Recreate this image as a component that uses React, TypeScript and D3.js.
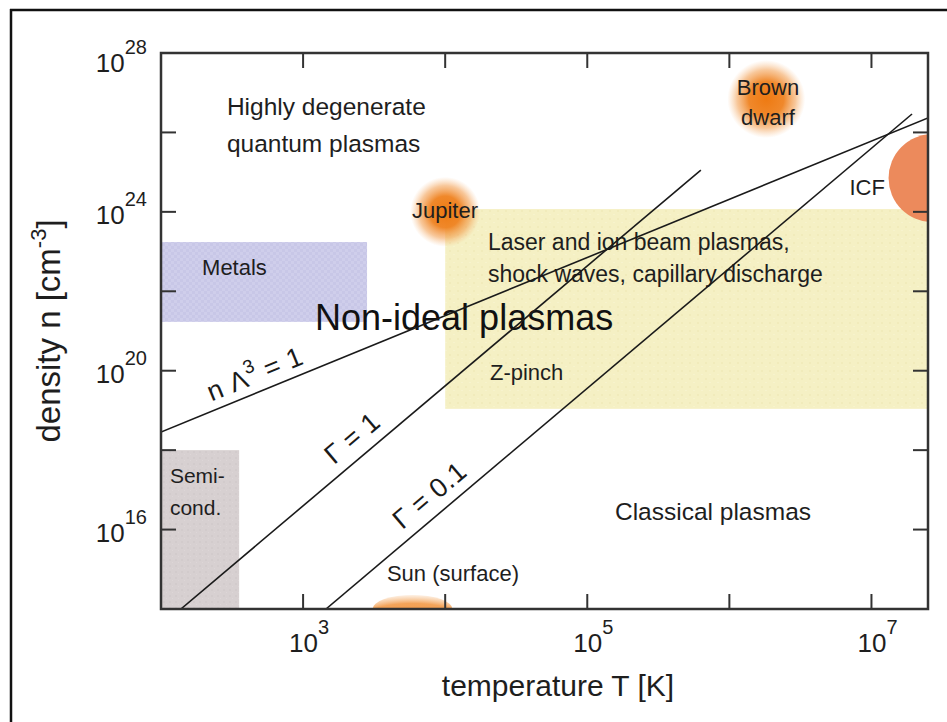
import React from 'react';
import * as d3 from 'd3';

// ---------- data ----------
const xDomain = [1e2, 2.5e7];
const yDomain = [1e14, 1e28];
const xTickValues = [1e3, 1e4, 1e5, 1e6, 1e7];
const xLabelExps = [3, 5, 7];
const yTickValues = [1e16, 1e18, 1e20, 1e22, 1e24, 1e26];
const yLabelExps = [16, 20, 24, 28];

// boundary lines (endpoints in data units: T [K], n [cm^-3])
const lineNames = ['nLambda', 'Gamma1', 'Gamma01'];
const lineT = [[100, 2.5e7], [138, 6.3e5], [1449, 1.93e7]];
const lineN = [[2.86e18, 2.31e26], [1e14, 1.13e25], [1e14, 2.91e26]];
const lineLabelT = [240, 1850, 5600];

// regions (log10 T range, log10 n range)
const regionNames = ['Metals', 'Laser', 'Semi'];
const regionLogT = [[2, 3.45], [4.0, 7.4], [2, 2.55]];
const regionLogN = [[21.23, 23.24], [19.04, 24.07], [14, 18.0]];
const regionFill = ['url(#metalPat)', 'url(#laserPat)', 'url(#semiPat)'];

// objects (log10 T, log10 n)
const blobNames = ['Jupiter', 'BrownDwarf'];
const blobLogT = [4.0, 6.26];
const blobLogN = [24.0, 26.84];

const icfLogT = 7.43;
const icfLogN = 24.85;
const sunLogT = 3.77;
const sunLogN = 14;

// annotations
const annLines = [
  ['Highly degenerate', 'quantum plasmas'],
  ['Metals'],
  ['Jupiter'],
  ['Brown', 'dwarf'],
  ['ICF'],
  ['Laser and ion beam plasmas,', 'shock waves, capillary discharge'],
  ['Non-ideal plasmas'],
  ['Z-pinch'],
  ['Classical plasmas'],
  ['Semi-', 'cond.'],
  ['Sun (surface)'],
];
const annLogT = [2.464, 2.289, 3.766, 6.272, 7.095, 4.301, 3.084, 4.315, 5.195, 2.063, 3.59];
const annLogN = [26.44, 22.41, 23.845, 26.943, 24.425, 23.04, 21.025, 19.766, 16.241, 17.173, 14.705];
const annAnchor = ['start', 'start', 'start', 'middle', 'end', 'start', 'start', 'start', 'start', 'start', 'start'];
const annSize = [24.5, 22, 22, 22, 22, 23, 36, 22, 24.5, 21, 22];
const annGap = [37, 0, 0, 30, 0, 32, 0, 0, 0, 32, 0];

const FONT = '"Liberation Sans", Arial, Helvetica, sans-serif';

export default function App() {
  const L = 161, R = 928, T = 53, B = 609;
  const x = d3.scaleLog().domain(xDomain).range([L, R]);
  const y = d3.scaleLog().domain(yDomain).range([B, T]);
  const lineGen = d3.line<[number, number]>().x(d => x(d[0])).y(d => y(d[1]));

  const lines = lineNames.map((name, i) => {
    const pts: [number, number][] = [[lineT[i][0], lineN[i][0]], [lineT[i][1], lineN[i][1]]];
    const x0 = x(pts[0][0]), y0 = y(pts[0][1]), x1 = x(pts[1][0]), y1 = y(pts[1][1]);
    const ang = Math.atan2(y1 - y0, x1 - x0);
    const lt = lineLabelT[i];
    const frac = (Math.log10(lt) - Math.log10(pts[0][0])) / (Math.log10(pts[1][0]) - Math.log10(pts[0][0]));
    const lx = x0 + frac * (x1 - x0);
    const ly = y0 + frac * (y1 - y0);
    const off = i === 0 ? 9 : 11;
    const ox = lx + Math.sin(ang) * off;
    const oy = ly - Math.cos(ang) * off;
    return { name, d: lineGen(pts), ang: (ang * 180) / Math.PI, ox, oy };
  });

  const textColor = '#1e1e1e';

  return (
    <svg width={947} height={722} style={{ position: 'absolute', left: 0, top: 0, background: '#fff' }} fontFamily={FONT}>
      <defs>
        <clipPath id="plotClip">
          <rect x={L} y={T} width={R - L} height={B - T} />
        </clipPath>
        <pattern id="metalPat" width="6" height="6" patternUnits="userSpaceOnUse">
          <rect width="6" height="6" fill="#c8c7e7" />
          <rect width="3" height="3" fill="#cfceeb" />
          <rect x="3" y="3" width="3" height="3" fill="#cfceeb" />
        </pattern>
        <pattern id="laserPat" width="8" height="8" patternUnits="userSpaceOnUse">
          <rect width="8" height="8" fill="#f5f0c4" />
          <rect x="1" y="2" width="2" height="2" fill="#f1ebbb" />
          <rect x="5" y="6" width="2" height="1" fill="#f7f3cd" />
        </pattern>
        <pattern id="semiPat" width="6" height="6" patternUnits="userSpaceOnUse">
          <rect width="6" height="6" fill="#d7d0d1" />
          <rect x="1" y="1" width="2" height="2" fill="#d2cbcc" />
          <rect x="4" y="4" width="1" height="1" fill="#ddd6d7" />
        </pattern>
        <radialGradient id="blobGrad">
          <stop offset="0%" stopColor="#ee7a12" stopOpacity={1} />
          <stop offset="45%" stopColor="#ef8220" stopOpacity={0.95} />
          <stop offset="75%" stopColor="#f29a48" stopOpacity={0.55} />
          <stop offset="100%" stopColor="#f6b77a" stopOpacity={0} />
        </radialGradient>
        <radialGradient id="sunGrad" cx="50%" cy="100%" r="100%">
          <stop offset="0%" stopColor="#f08a2c" stopOpacity={1} />
          <stop offset="70%" stopColor="#f29a48" stopOpacity={0.9} />
          <stop offset="100%" stopColor="#f6b77a" stopOpacity={0.2} />
        </radialGradient>
      </defs>

      {/* outer frame */}
      <line x1={11} y1={9} x2={11} y2={722} stroke="#111" strokeWidth={2.5} />
      <line x1={10} y1={10} x2={947} y2={10} stroke="#111" strokeWidth={2.5} />

      <g clipPath="url(#plotClip)">
        {regionNames.map((nm, i) => {
          const x0 = x(10 ** regionLogT[i][0]);
          const x1 = x(10 ** regionLogT[i][1]);
          const y0 = y(10 ** regionLogN[i][1]);
          const y1 = y(10 ** regionLogN[i][0]);
          return <rect key={nm} x={x0} y={y0} width={x1 - x0} height={y1 - y0} fill={regionFill[i]} />;
        })}
        {blobNames.map((nm, i) => (
          <circle key={nm} cx={x(10 ** blobLogT[i])} cy={y(10 ** blobLogN[i])} r={i === 1 ? 39 : 35} fill="url(#blobGrad)" />
        ))}
        <circle cx={x(10 ** icfLogT)} cy={y(10 ** icfLogN)} r={44} fill="#ec8a5c" />
        <ellipse cx={x(10 ** sunLogT)} cy={y(10 ** sunLogN)} rx={40} ry={14} fill="url(#sunGrad)" />
      </g>

      {/* annotations */}
      {annLines.map((ls, i) => (
        <text
          key={i}
          x={x(10 ** annLogT[i])}
          y={y(10 ** annLogN[i])}
          fontSize={annSize[i]}
          textAnchor={annAnchor[i] as any}
          fill={i === 6 ? '#111' : textColor}
        >
          {ls.map((s, j) => (
            <tspan key={j} x={x(10 ** annLogT[i])} dy={j === 0 ? 0 : annGap[i]}>{s}</tspan>
          ))}
        </text>
      ))}

      {/* boundary lines */}
      <g clipPath="url(#plotClip)">
        {lines.map(l => (
          <path key={l.name} d={l.d || ''} fill="none" stroke="#1a1a1a" strokeWidth={1.6} />
        ))}
      </g>
      {lines.map(l => (
        <text key={l.name + 'lab'} transform={`translate(${l.ox},${l.oy}) rotate(${l.ang})`} fontSize={27} fill="#1a1a1a" letterSpacing={0.5}>
          {l.name === 'nLambda' ? (
            <>
              <tspan>n Λ</tspan>
              <tspan dy={-12} fontSize={19}>3</tspan>
              <tspan dy={12}> = 1</tspan>
            </>
          ) : l.name === 'Gamma1' ? (
            'Γ = 1'
          ) : (
            'Γ = 0.1'
          )}
        </text>
      ))}

      {/* plot frame */}
      <rect x={L} y={T} width={R - L} height={B - T} fill="none" stroke="#333" strokeWidth={2.5} />

      {/* ticks */}
      {xTickValues.map(v => (
        <g key={'xt' + v}>
          <line x1={x(v)} x2={x(v)} y1={B} y2={B - 15} stroke="#333" strokeWidth={2} />
          <line x1={x(v)} x2={x(v)} y1={T} y2={T + 15} stroke="#333" strokeWidth={2} />
        </g>
      ))}
      {yTickValues.map(v => (
        <g key={'yt' + v}>
          <line x1={L} x2={L + 15} y1={y(v)} y2={y(v)} stroke="#333" strokeWidth={2} />
          <line x1={R} x2={R - 15} y1={y(v)} y2={y(v)} stroke="#333" strokeWidth={2} />
        </g>
      ))}

      {/* tick labels */}
      {xLabelExps.map(e => (
        <text key={'xl' + e} x={x(10 ** e) - 14} y={B + 43} fontSize={26} fill={textColor}>
          <tspan>10</tspan>
          <tspan dy={-18} fontSize={20}>{e}</tspan>
        </text>
      ))}
      {yLabelExps.map(e => (
        <text key={'yl' + e} x={147} y={y(10 ** e) + (e === 28 ? 19 : 12)} fontSize={26} fill={textColor} textAnchor="end">
          <tspan>10</tspan>
          <tspan dy={-18} fontSize={20}>{e}</tspan>
        </text>
      ))}

      {/* axis titles */}
      <text x={558} y={696} fontSize={30} textAnchor="middle" fill={textColor}>temperature T [K]</text>
      <text transform="translate(60,331) rotate(-90)" fontSize={33} textAnchor="middle" fill={textColor}>
        <tspan>density n [cm</tspan>
        <tspan dy={-14} fontSize={22}>-3</tspan>
        <tspan dy={14}>]</tspan>
      </text>
    </svg>
  );
}
